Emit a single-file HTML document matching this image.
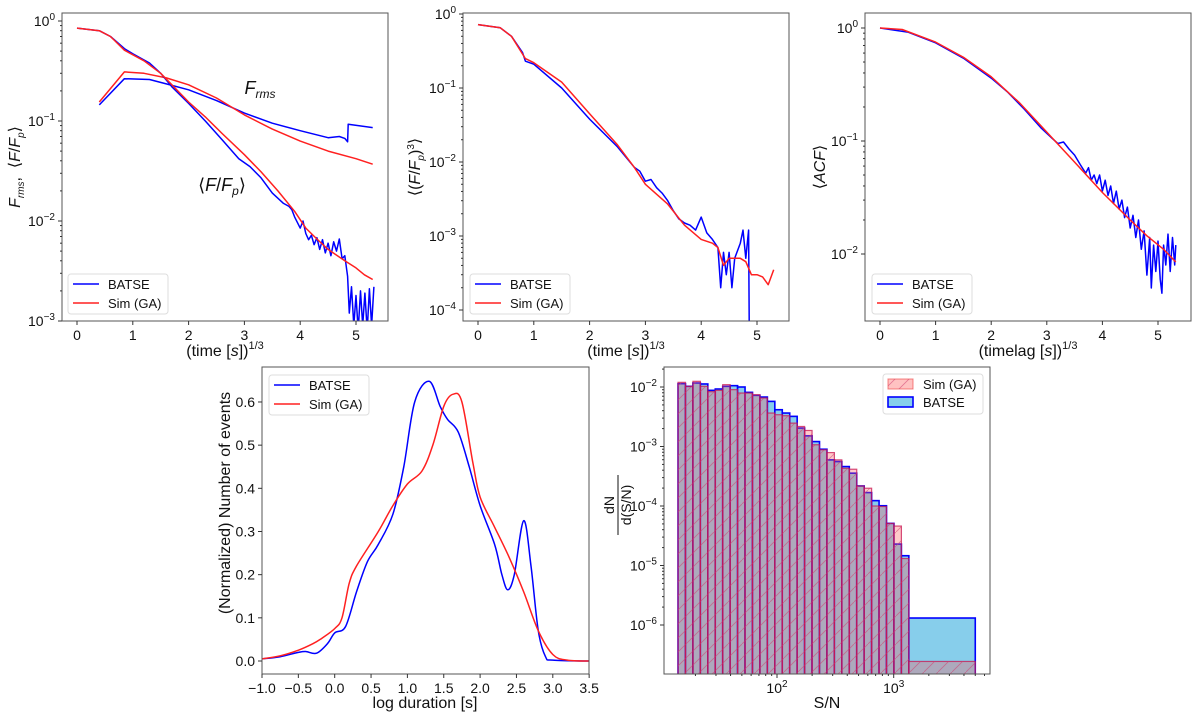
<!DOCTYPE html>
<html><head><meta charset="utf-8"><style>
html,body{margin:0;padding:0;background:#fff;}
svg{display:block;font-family:"Liberation Sans","DejaVu Sans",sans-serif;}
</style></head><body>
<svg id="fig" width="1200" height="720" viewBox="0 0 1200 720" xmlns="http://www.w3.org/2000/svg">
<defs>
<pattern id="hatch" patternUnits="userSpaceOnUse" width="14" height="14">
<path d="M0,14 L14,0" stroke="#d04070" stroke-width="0.8" opacity="0.6"/>
</pattern>
</defs>
</svg>
<script>
// ---------- data ----------
const p1BatseMean=[[0,0.85],[0.4,0.8],[0.6,0.7],[0.85,0.53],[1.0,0.47],[1.3,0.38],[1.5,0.3],[1.7,0.22],[2.0,0.15],[2.3,0.1],[2.6,0.065],[2.9,0.042],[3.1,0.035],[3.3,0.027],[3.5,0.019],[3.7,0.015],[3.8,0.014],[3.85,0.013],[3.9,0.011],[4.0,0.0085],[4.05,0.01],[4.1,0.0075],[4.15,0.0065],[4.2,0.0072],[4.25,0.0058],[4.3,0.0068],[4.35,0.0052],[4.4,0.0065],[4.45,0.0048],[4.5,0.006],[4.55,0.0045],[4.6,0.0062],[4.65,0.005],[4.7,0.0066],[4.75,0.0042],[4.8,0.0045],[4.85,0.0028],[4.88,0.0012],[4.92,0.0022],[4.96,0.0009],[5.0,0.0018],[5.04,0.0008],[5.08,0.002],[5.12,0.0009],[5.16,0.0019],[5.2,0.0008],[5.24,0.0021],[5.28,0.0009],[5.32,0.0022]];
const p1SimMean=[[0,0.85],[0.4,0.8],[0.6,0.7],[0.85,0.51],[1.2,0.4],[1.5,0.3],[2.0,0.155],[2.3,0.11],[2.6,0.075],[3.0,0.046],[3.3,0.031],[3.6,0.02],[3.9,0.0125],[4.1,0.0085],[4.3,0.0066],[4.5,0.0052],[4.8,0.004],[5.0,0.0034],[5.15,0.0029],[5.3,0.0026]];
const p1BatseRms=[[0.4,0.145],[0.85,0.265],[1.3,0.26],[1.6,0.235],[2.0,0.205],[2.5,0.16],[3.0,0.12],[3.5,0.095],[4.0,0.08],[4.5,0.068],[4.7,0.07],[4.8,0.067],[4.85,0.062],[4.86,0.093],[5.3,0.086]];
const p1SimRms=[[0.4,0.155],[0.85,0.31],[1.2,0.3],[1.6,0.27],[2.0,0.23],[2.5,0.17],[3.0,0.115],[3.5,0.083],[4.0,0.063],[4.5,0.05],[5.0,0.042],[5.3,0.037]];
const p2Batse=[[0,0.72],[0.4,0.65],[0.6,0.5],[0.8,0.3],[0.85,0.23],[1.0,0.21],[1.5,0.1],[2.0,0.038],[2.5,0.016],[2.8,0.0085],[2.9,0.0075],[3.0,0.0055],[3.1,0.0058],[3.2,0.0045],[3.3,0.0038],[3.4,0.003],[3.5,0.0022],[3.6,0.0017],[3.7,0.0015],[3.8,0.0014],[3.9,0.0012],[4.0,0.0018],[4.1,0.0011],[4.2,0.0009],[4.3,0.0007],[4.35,0.0002],[4.4,0.0006],[4.45,0.0003],[4.5,0.0006],[4.55,0.0002],[4.6,0.0005],[4.7,0.0008],[4.75,0.0012],[4.8,0.0005],[4.85,0.0012],[4.86,0.00007]];
const p2Sim=[[0,0.72],[0.4,0.65],[0.6,0.5],[0.85,0.25],[1.0,0.22],[1.5,0.12],[2.0,0.045],[2.5,0.017],[2.8,0.0085],[3.0,0.005],[3.4,0.0027],[3.7,0.0014],[4.0,0.0009],[4.2,0.0008],[4.3,0.0007],[4.4,0.0004],[4.5,0.0005],[4.7,0.0005],[4.8,0.00045],[4.9,0.0003],[5.0,0.0003],[5.1,0.00028],[5.2,0.00022],[5.3,0.00035]];
const p3Batse=[[0,1],[0.5,0.92],[1,0.74],[1.5,0.54],[2,0.36],[2.3,0.27],[2.6,0.19],[2.9,0.13],[3.1,0.105],[3.2,0.095],[3.3,0.098],[3.4,0.085],[3.5,0.075],[3.6,0.062],[3.7,0.052],[3.75,0.058],[3.8,0.045],[3.85,0.05],[3.9,0.042],[3.95,0.05],[4.0,0.036],[4.05,0.045],[4.1,0.033],[4.15,0.04],[4.2,0.028],[4.25,0.036],[4.3,0.025],[4.35,0.03],[4.4,0.021],[4.45,0.026],[4.5,0.017],[4.55,0.022],[4.6,0.014],[4.65,0.02],[4.7,0.011],[4.75,0.016],[4.8,0.0065],[4.85,0.014],[4.88,0.005],[4.92,0.012],[4.96,0.007],[5.0,0.013],[5.04,0.006],[5.07,0.0045],[5.1,0.012],[5.14,0.008],[5.18,0.015],[5.22,0.007],[5.26,0.014],[5.3,0.008],[5.32,0.012]];
const p3Sim=[[0,1],[0.4,0.97],[1,0.75],[1.5,0.55],[2,0.37],[2.5,0.22],[3,0.12],[3.5,0.065],[4,0.035],[4.5,0.02],[4.8,0.0145],[5.1,0.011],[5.32,0.0085]];
const kdeX=[-1,-0.75,-0.5,-0.4,-0.25,-0.1,0,0.15,0.3,0.45,0.6,0.8,0.95,1.1,1.3,1.45,1.55,1.7,1.85,2.0,2.2,2.3,2.38,2.47,2.6,2.7,2.8,2.9,3.0,3.5];
const kdeBatse=[0.005,0.01,0.02,0.022,0.018,0.04,0.065,0.08,0.16,0.23,0.27,0.34,0.45,0.6,0.648,0.59,0.56,0.53,0.45,0.36,0.27,0.2,0.165,0.2,0.325,0.22,0.07,0.01,0.002,0];
const kdeSimX=[-1,-0.75,-0.5,-0.3,-0.2,0,0.1,0.2,0.3,0.6,0.8,1.0,1.2,1.35,1.5,1.63,1.75,1.9,2.0,2.2,2.4,2.6,2.8,3.0,3.2,3.5];
const kdeSim=[0.005,0.012,0.025,0.04,0.05,0.075,0.1,0.18,0.22,0.3,0.36,0.41,0.44,0.5,0.59,0.618,0.6,0.46,0.38,0.31,0.24,0.16,0.07,0.015,0.002,0];
const histBatse=[0.01137,0.01026,0.01167,0.01124,0.00879,0.00925,0.01026,0.01053,0.01,0.00813,0.00724,0.00678,0.00573,0.00415,0.00365,0.00321,0.00204,0.00151,0.00121,9.0e-4,5.96e-4,5.58e-4,4.6e-4,3.56e-4,2.17e-4,1.68e-4,1.23e-4,1.01e-4,5.1e-5,2.29e-5,1.46e-5,1.31e-6];
const histSim=[0.01198,0.01026,0.01246,0.01026,0.00834,0.00879,0.01095,0.00902,0.00792,0.00792,0.00743,0.00653,0.00365,0.00342,0.00329,0.00247,0.00217,0.00186,0.00107,8.8e-4,7.9e-4,5.96e-4,4.3e-4,4.15e-4,2.17e-4,1.99e-4,1.0e-4,9.8e-5,5.1e-5,4.6e-5,1.31e-5,2.44e-7];
const histLastEdge=5000;
const legendLabels=["BATSE","Sim (GA)"];

// ---------- helpers ----------
const NS="http://www.w3.org/2000/svg";
const svg=document.getElementById('fig');
function el(tag,attrs,parent){const e=document.createElementNS(NS,tag);for(const k in attrs)e.setAttribute(k,attrs[k]);(parent||svg).appendChild(e);return e;}
const BLUE="#0000ff",RED="#ff2020";
function clip(id,f){const cp=el('clipPath',{id:id},svg.querySelector('defs'));el('rect',{x:f.l,y:f.t,width:f.r-f.l,height:f.b-f.t},cp);}
function frame(f,name){const r=el('rect',{x:f.l,y:f.t,width:f.r-f.l,height:f.b-f.t,fill:'none',stroke:'#555',"stroke-width":1});}
function xTicksLin(f,sx,vals,labels,name){vals.forEach((v,i)=>{const x=sx(v);el('line',{x1:x,x2:x,y1:f.b,y2:f.b+4,stroke:'#333'});const t=el('text',{x:x,y:f.b+19,"font-size":14,"text-anchor":"middle",fill:'#111'});t.textContent=labels[i];});}
function yTicksLog(f,sy,eMin,eMax,name,minor){for(let e=eMin;e<=eMax;e++){const y=sy(Math.pow(10,e));if(y>=f.t-0.5&&y<=f.b+0.5){el('line',{x1:f.l-4,x2:f.l,y1:y,y2:y,stroke:'#333'});const t=el('text',{x:f.l-7,y:y+5,"font-size":14,"text-anchor":"end",fill:'#111'});t.appendChild(document.createTextNode('10'));const s=el('tspan',{dy:-6,"font-size":10},t);s.textContent=(e<0?'\u2212'+(-e):e);}
if(minor!==false)for(let m=2;m<10;m++){const yy=sy(m*Math.pow(10,e));if(yy>=f.t&&yy<=f.b)el('line',{x1:f.l-2,x2:f.l,y1:yy,y2:yy,stroke:'#333'});}}}
function line(data,sx,sy,color,cid,name,w){const d=data.map((p,i)=>(i?'L':'M')+sx(p[0]).toFixed(1)+','+sy(Math.max(p[1],1e-9)).toFixed(1)).join('');const p=el('path',{d:d,fill:'none',stroke:color,"stroke-width":w||1.5,"clip-path":'url(#'+cid+')',"stroke-linejoin":"round"});return p;}
function smooth(xs,ys,sx,sy){const P=xs.map((x,i)=>[sx(x),sy(ys[i])]);let d='M'+P[0][0]+','+P[0][1];for(let i=0;i<P.length-1;i++){const p0=P[i-1]||P[i],p1=P[i],p2=P[i+1],p3=P[i+2]||p2;const c1=[p1[0]+(p2[0]-p0[0])/6,p1[1]+(p2[1]-p0[1])/6],c2=[p2[0]-(p3[0]-p1[0])/6,p2[1]-(p3[1]-p1[1])/6];d+='C'+c1[0].toFixed(1)+','+c1[1].toFixed(1)+' '+c2[0].toFixed(1)+','+c2[1].toFixed(1)+' '+p2[0].toFixed(1)+','+p2[1].toFixed(1);}return d;}
function legendLines(x,y,name){const g=el('g',{});el('rect',{x:x,y:y,width:100,height:40,rx:3,fill:'#fff',stroke:'#ddd',"fill-opacity":0.85},g);[BLUE,RED].forEach((c,i)=>{el('line',{x1:x+5,x2:x+31,y1:y+10+i*19,y2:y+10+i*19,stroke:c,"stroke-width":1.5},g);const t=el('text',{x:x+40,y:y+15+i*19,"font-size":13,fill:'#111'},g);t.textContent=legendLabels[i];});}
function label(x,y,txt,rot,name,size){const t=el('text',{x:x,y:y,"font-size":size||16,"text-anchor":"middle",fill:'#111',transform:rot?`rotate(-90 ${x} ${y})`:''});t.innerHTML=txt;return t;}
const L10=Math.log10;
const tl=['0','1','2','3','4','5'];

// ---------- panel 1 ----------
{const f={l:62,r:388,t:13,b:321};const sx=x=>77+x*55.8,sy=v=>21-100*L10(v);clip('c1',f);
line(p1BatseRms,sx,sy,BLUE,'c1','batse-frms-line');line(p1SimRms,sx,sy,RED,'c1','sim-frms-line');
line(p1BatseMean,sx,sy,BLUE,'c1','batse-mean-line');line(p1SimMean,sx,sy,RED,'c1','sim-mean-line');
frame(f,'panel1');xTicksLin(f,sx,[0,1,2,3,4,5],tl,'panel1');yTicksLog(f,sy,-3,0,'panel1');
label(225,356,'(time [<tspan font-style="italic">s</tspan>])<tspan dy="-7" font-size="11">1/3</tspan>',false,'panel1-x-axis-title');
label(20,167,'<tspan font-style="italic">F</tspan><tspan font-size="10" dy="4" font-style="italic">rms</tspan><tspan dy="-4">,&#160;&#160;⟨</tspan><tspan font-style="italic">F</tspan>/<tspan font-style="italic">F</tspan><tspan font-size="10" dy="4" font-style="italic">p</tspan><tspan dy="-4">⟩</tspan>',true,'panel1-y-axis-title');
label(260,94,'<tspan font-style="italic">F</tspan><tspan font-size="12" dy="4" font-style="italic">rms</tspan>',false,'frms-annotation',18);
label(222,191,'⟨<tspan font-style="italic">F</tspan>/<tspan font-style="italic">F</tspan><tspan font-size="12" dy="4" font-style="italic">p</tspan><tspan dy="-4">⟩</tspan>',false,'mean-annotation',18);
legendLines(68,274,'panel1-legend');}

// ---------- panel 2 ----------
{const f={l:463,r:789,t:13,b:321};const sx=x=>478+x*55.8,sy=v=>14-74*L10(v);clip('c2',f);
line(p2Batse,sx,sy,BLUE,'c2','batse-cubed-line');line(p2Sim,sx,sy,RED,'c2','sim-cubed-line');
frame(f,'panel2');xTicksLin(f,sx,[0,1,2,3,4,5],tl,'panel2');yTicksLog(f,sy,-4,0,'panel2');
label(626,356,'(time [<tspan font-style="italic">s</tspan>])<tspan dy="-7" font-size="11">1/3</tspan>',false,'panel2-x-axis-title');
label(420,167,'⟨(<tspan font-style="italic">F</tspan>/<tspan font-style="italic">F</tspan><tspan font-size="10" dy="4" font-style="italic">p</tspan><tspan dy="-4">)</tspan><tspan dy="-6" font-size="10">3</tspan><tspan dy="6">⟩</tspan>',true,'panel2-y-axis-title');
legendLines(470,274,'panel2-legend');}

// ---------- panel 3 ----------
{const f={l:865,r:1191,t:13,b:321};const sx=x=>880+x*55.6,sy=v=>28-113*L10(v);clip('c3',f);
line(p3Batse,sx,sy,BLUE,'c3','batse-acf-line');line(p3Sim,sx,sy,RED,'c3','sim-acf-line');
frame(f,'panel3');xTicksLin(f,sx,[0,1,2,3,4,5],tl,'panel3');yTicksLog(f,sy,-2,0,'panel3');
label(1028,356,'(timelag [<tspan font-style="italic">s</tspan>])<tspan dy="-7" font-size="11">1/3</tspan>',false,'panel3-x-axis-title');
label(825,167,'⟨<tspan font-style="italic">ACF</tspan>⟩',true,'panel3-y-axis-title');
legendLines(872,274,'panel3-legend');}

// ---------- panel 4 ----------
{const f={l:262,r:589,t:367,b:674};const sx=x=>262+(x+1)*72.7,sy=v=>661-v*431.7;clip('c4',f);
let p=el('path',{d:smooth(kdeX,kdeBatse,sx,sy),fill:'none',stroke:BLUE,"stroke-width":1.5,"clip-path":'url(#c4)'});
p=el('path',{d:smooth(kdeSimX,kdeSim,sx,sy),fill:'none',stroke:RED,"stroke-width":1.5,"clip-path":'url(#c4)'});
frame(f,'panel4');
const xv=[-1,-0.5,0,0.5,1,1.5,2,2.5,3,3.5];xTicksLin(f,sx,xv,xv.map(v=>(v<0?'\u2212':'')+Math.abs(v).toFixed(1)),'panel4');
[0,0.1,0.2,0.3,0.4,0.5,0.6].forEach(v=>{const y=sy(v);el('line',{x1:f.l-4,x2:f.l,y1:y,y2:y,stroke:'#333'});const t=el('text',{x:f.l-7,y:y+5,"font-size":14,"text-anchor":"end",fill:'#111'});t.textContent=v.toFixed(1);});
label(425,708,'log duration [s]',false,'panel4-x-axis-title');
label(230,503,'(Normalized) Number of events',true,'panel4-y-axis-title');
legendLines(269,375,'panel4-legend');}

// ---------- panel 5 ----------
{const f={l:664,r:990,t:367,b:674};const sx=v=>777+(L10(v)-2)*116.7,sy=v=>387-59.5*(L10(v)+2);clip('c5',f);
const edges=[];for(let i=0;i<=31;i++)edges.push(Math.pow(10,1.152+i*0.0638));edges.push(histLastEdge);
const gB=el('g',{"clip-path":'url(#c5)'});
histBatse.forEach((v,i)=>{const x0=sx(edges[i]),x1=sx(edges[i+1]),y=sy(v);const r=el('rect',{x:x0,y:y,width:x1-x0,height:f.b-y+2,fill:'#87ceeb',stroke:'#0000ff',"stroke-width":1.6},gB);});
const gS=el('g',{"clip-path":'url(#c5)'});
histSim.forEach((v,i)=>{const x0=sx(edges[i]),x1=sx(edges[i+1]),y=sy(v);const r=el('rect',{x:x0,y:y,width:x1-x0,height:f.b-y+2,fill:'rgba(255,90,90,0.32)',stroke:'rgba(200,20,80,0.75)',"stroke-width":1.2},gS);
el('rect',{x:x0,y:y,width:x1-x0,height:f.b-y+2,fill:'url(#hatch)'},gS);});
frame(f,'panel5');yTicksLog(f,sy,-6,-2,'panel5');
for(let e=1;e<=3;e++){for(let m=1;m<10;m++){const v=m*Math.pow(10,e),x=sx(v);if(x<f.l||x>f.r)continue;el('line',{x1:x,x2:x,y1:f.b,y2:f.b+(m===1?4:2),stroke:'#333'});if(m===1&&e>=2){const t=el('text',{x:x,y:f.b+19,"font-size":14,"text-anchor":"middle",fill:'#111'});t.appendChild(document.createTextNode('10'));const s=el('tspan',{dy:-6,"font-size":10},t);s.textContent=e;}}}
label(827,708,'S/N',false,'panel5-x-axis-title');
const yl=el('g',{transform:'translate(618 505) rotate(-90)'});
let t=el('text',{x:0,y:-4,"font-size":14,"text-anchor":"middle",fill:'#111'},yl);t.textContent='dN';
el('line',{x1:-30,x2:30,y1:0,y2:0,stroke:'#111',"stroke-width":1},yl);
t=el('text',{x:0,y:13,"font-size":14,"text-anchor":"middle",fill:'#111'},yl);t.textContent='d(S/N)';
const g=el('g',{});
el('rect',{x:883,y:374,width:100,height:40,rx:3,fill:'#fff',stroke:'#ddd'},g);
el('rect',{x:888,y:379,width:25,height:10,fill:'rgba(255,120,120,0.45)',stroke:'rgba(240,80,80,0.7)'},g);
el('rect',{x:888,y:379,width:25,height:10,fill:'url(#hatch)'},g);
el('rect',{x:888,y:397,width:25,height:10,fill:'#87ceeb',stroke:'#0000ff',"stroke-width":1.6},g);
t=el('text',{x:923,y:389,"font-size":13,fill:'#111'},g);t.textContent='Sim (GA)';
t=el('text',{x:923,y:407,"font-size":13,fill:'#111'},g);t.textContent='BATSE';}
</script>
</body></html>
